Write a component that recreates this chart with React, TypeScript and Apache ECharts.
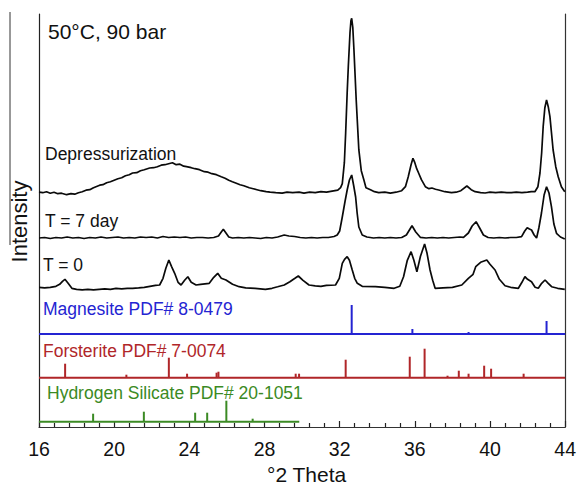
import React, { useEffect, useRef } from "react";
import * as echarts from "echarts";

// ---- axis range ----
const X_MIN = 16;
const X_MAX = 44;
const X_STEP = 4;

// ---- XRD traces: [2θ, relative intensity above own baseline] ----
const depressurization: [number, number][] = [
  [16.0, 0.5], [16.2, 0], [16.4, 1], [16.6, -0.5], [16.8, 0.5], [17.0, -1], [17.2, -0.5], [17.47, -2], [17.7, -1], [17.9, -1.5],
  [18.1, 0], [18.3, 1], [18.5, 2.5], [18.7, 3], [18.9, 5], [19.23, 7.5], [19.4, 8], [19.6, 10], [19.8, 11], [20.0, 12.5],
  [20.2, 14], [20.4, 15], [20.6, 17], [20.8, 18], [20.98, 19.7], [21.2, 20], [21.4, 22], [21.6, 23], [21.89, 24.7], [22.1, 25],
  [22.3, 26], [22.5, 27.5], [22.7, 28], [22.9, 29], [23.1, 30], [23.3, 28], [23.5, 28.5], [23.7, 26.5], [23.85, 26], [24.1, 25],
  [24.3, 24], [24.54, 23], [24.8, 21], [25.0, 20.5], [25.2, 19], [25.44, 18], [25.7, 16], [25.9, 14.5], [26.1, 12.5], [26.29, 11],
  [26.5, 9.5], [26.7, 8], [26.9, 7], [27.19, 5], [27.4, 4], [27.6, 3], [27.8, 2], [28.09, 1], [28.3, 0.5], [28.6, 0],
  [28.94, -0.5], [29.2, 0.5], [29.5, 0], [29.84, 0.5], [30.1, -0.5], [30.4, 0.5], [30.7, 0], [31.0, 1], [31.3, 0.5], [31.6, 1.5],
  [31.9, 2.5], [32.05, 5], [32.14, 9], [32.25, 30], [32.32, 60], [32.4, 100], [32.46, 126], [32.55, 160], [32.6, 172], [32.64, 174.4],
  [32.7, 165], [32.76, 143], [32.82, 118], [32.88, 93], [32.95, 68], [33.02, 43], [33.15, 22], [33.29, 12.7], [33.4, 5], [33.64, 3],
  [33.85, 1], [34.08, 0], [34.4, 0.5], [34.7, -0.5], [35.0, 0.5], [35.3, 2], [35.5, 6], [35.65, 16], [35.8, 28], [35.9, 34.4],
  [36.0, 30], [36.1, 24], [36.2, 19.7], [36.35, 13], [36.56, 6], [36.75, 4], [36.91, 4.7], [37.1, 3.5], [37.27, 2.7], [37.6, 1],
  [37.95, 0], [38.2, 0.5], [38.45, 2], [38.77, 6.7], [39.0, 3], [39.21, 1], [39.5, 0], [39.74, -0.3], [40.0, 0.5], [40.3, 0],
  [40.6, 0.5], [40.9, 0], [41.14, 0], [41.4, 0.5], [41.7, 0], [42.0, 0.5], [42.2, 1], [42.39, 1], [42.55, 6], [42.66, 19.7],
  [42.75, 40], [42.83, 66], [42.92, 85], [43.01, 92.7], [43.1, 86], [43.19, 76], [43.36, 42.7], [43.5, 26], [43.63, 16], [43.8, 6],
  [43.98, 1],
];

const day7: [number, number][] = [
  [16.0, 0], [16.3, 0.5], [16.6, -0.5], [16.9, 0.5], [17.2, 0], [17.5, 1], [17.8, 0], [18.1, 0.5], [18.4, -0.5], [18.7, 0.5],
  [19.0, 0], [19.3, 1], [19.6, 0], [19.9, 0.5], [20.2, 1], [20.5, 0], [20.8, 0.5], [21.1, 0], [21.4, 1], [21.7, 0.5],
  [22.0, 1], [22.3, 0], [22.6, 1.5], [22.9, 0.5], [23.2, 1], [23.5, 0.5], [23.8, 1], [24.1, 0], [24.4, 0.5], [24.7, 0.5],
  [25.0, 0], [25.3, 0.5], [25.55, 2], [25.7, 6], [25.81, 8.7], [25.95, 5], [26.1, 1], [26.3, 0], [26.6, 0.5], [26.9, 0],
  [27.2, 0.5], [27.5, 0], [27.8, -0.5], [28.1, 0.5], [28.4, 0], [28.7, 1], [29.05, 3], [29.3, 2], [29.6, 1.5], [29.9, 0.5],
  [30.2, 0], [30.5, 0.5], [30.8, 0], [31.1, 0.5], [31.4, 0.5], [31.7, 1.5], [31.87, 3], [32.0, 7], [32.14, 21], [32.28, 36],
  [32.4, 48], [32.52, 58], [32.64, 63], [32.75, 52], [32.85, 41], [32.93, 25], [33.02, 11], [33.2, 3], [33.45, 1], [33.8, 0],
  [34.1, 0.5], [34.4, 0], [34.7, 0.5], [35.0, 0], [35.3, 0.5], [35.55, 3], [35.85, 12.3], [36.05, 6], [36.29, 0.7], [36.6, 0],
  [36.9, 0.5], [37.2, 0], [37.5, 0.5], [37.8, 0], [38.1, 0.5], [38.4, 1], [38.59, 0.7], [38.85, 5], [39.05, 12], [39.26, 16.3],
  [39.45, 10], [39.65, 3], [39.9, 0.5], [40.2, 0], [40.5, 0.5], [40.8, 0], [41.1, 0.5], [41.4, 0.5], [41.68, 1.3], [41.85, 7],
  [41.98, 10.3], [42.1, 9], [42.21, 8], [42.35, 3], [42.48, 0], [42.6, 10], [42.74, 25], [42.88, 43], [43.01, 51.3], [43.14, 45],
  [43.27, 31.3], [43.4, 14], [43.54, 4.7], [43.75, 1], [43.98, -1],
];

const day0: [number, number][] = [
  [16.0, 1], [16.3, 0.5], [16.6, 1], [16.9, 2], [17.1, 4], [17.25, 7], [17.38, 9], [17.55, 5], [17.75, 0], [18.0, -1],
  [18.3, -1.5], [18.6, -1], [18.9, -1.5], [19.2, -1], [19.5, -0.5], [19.8, -1], [20.1, 0], [20.4, -0.5], [20.7, 0], [20.98, 0],
  [21.3, 0.5], [21.6, 1], [21.9, 2], [22.2, 3], [22.42, 3.3], [22.6, 10], [22.75, 20], [22.91, 28.3], [23.05, 22], [23.22, 15],
  [23.4, 6], [23.56, 3.3], [23.75, 8], [23.92, 11.6], [24.1, 6], [24.36, 3.3], [24.6, 4], [25.06, 5], [25.3, 11], [25.51, 15],
  [25.7, 10], [25.95, 8.3], [26.3, 4], [26.65, 1.6], [27.0, 0.5], [27.5, 0], [28.05, -1], [28.4, 0], [28.7, 1.5], [29.05, 3.3],
  [29.35, 6.6], [29.62, 10], [29.8, 12.3], [30.05, 8], [30.37, 3.3], [30.7, 2.5], [31.0, 2], [31.3, 3], [31.78, 3.3], [31.98, 10],
  [32.14, 25], [32.26, 29], [32.4, 31.6], [32.52, 28], [32.67, 18.3], [32.8, 10], [32.94, 5], [33.2, 2], [33.9, 1.6], [34.4, 1],
  [34.9, 0], [35.2, 2], [35.4, 11.6], [35.6, 28], [35.8, 36.6], [35.95, 28], [36.11, 16.6], [36.3, 32], [36.52, 44.3], [36.65, 35],
  [36.81, 18.3], [36.95, 8], [37.08, 0], [37.5, 0.5], [38.0, 1], [38.5, 3.3], [38.85, 10], [39.1, 14], [39.24, 21.6], [39.5, 26],
  [39.83, 28.3], [40.0, 24], [40.27, 18.3], [40.5, 9], [40.8, 2.6], [41.1, 1], [41.51, 0], [41.7, 6], [41.86, 11.6], [42.0, 9],
  [42.21, 6.6], [42.4, 1], [42.57, 0], [42.75, 5], [42.93, 8.3], [43.1, 5], [43.28, 1.6], [43.6, 0], [43.98, -1],
];

// ---- reference patterns (stick positions & relative heights) ----
const magnesitePos = [32.64, 35.87, 38.86, 43.01];
const magnesiteInt = [29, 5, 2, 13];
const forsteritePos = [17.39, 20.65, 22.91, 23.88, 25.45, 25.55, 29.66, 29.84, 32.32, 35.73, 36.52, 37.74, 38.34, 38.86, 39.69, 40.06, 41.79];
const forsteriteInt = [14, 3, 20, 4, 5, 6, 4, 4, 18, 21, 29, 2, 7, 4, 12, 9, 4];
const hydroSilPos = [18.88, 21.58, 24.31, 24.95, 25.97, 27.37];
const hydroSilInt = [8, 10, 9, 9, 21, 3];
const hydroSilBaselineEnd = 29.85;

// ---- labels ----
const titleText = "50°C, 90 bar";
const traceLabels = ["Depressurization", "T = 7 day", "T = 0"];
const patternLabels = ["Magnesite PDF# 8-0479", "Forsterite PDF# 7-0074", "Hydrogen Silicate PDF# 20-1051"];
const xAxisTitle = "°2 Theta";
const yAxisTitle = "Intensity";

// ---- layout (vertical offsets in axis units, colours) ----
const Y_MAX = 413;
const OFF_DEPRESS = 234.3;
const OFF_DAY7 = 189;
const OFF_DAY0 = 138.7;
const OFF_MAG = 93;
const OFF_FOR = 49.3;
const OFF_HS = 5.3;
const BLUE = "#2424d2";
const RED = "#b02629";
const GREEN = "#3b8a24";
const FONT = "Liberation Sans, Arial, sans-serif";

function shift(data: [number, number][], off: number) {
  return data.map(([x, y]) => [x, y + off]);
}

function traceSeries(name: string, data: [number, number][], off: number) {
  return {
    type: "line",
    name,
    data: shift(data, off),
    showSymbol: false,
    symbol: "none",
    silent: true,
    lineStyle: { color: "#0a0a0a", width: 1.7 },
    z: 4,
  };
}

function stickSeries(name: string, pos: number[], ints: number[], base: number, color: string) {
  return {
    type: "custom",
    name,
    silent: true,
    z: 3,
    encode: { x: 0, y: 1 },
    data: pos.map((p, i) => [p, base + ints[i]]),
    renderItem: (params: any, api: any) => {
      const x = api.value(0);
      const top = api.value(1);
      const a = api.coord([x, base]);
      const b = api.coord([x, top]);
      return {
        type: "line",
        shape: { x1: a[0], y1: a[1], x2: b[0], y2: b[1] },
        style: { stroke: color, lineWidth: 2 },
      };
    },
  };
}

function baselineSeries(name: string, base: number, end: number, color: string) {
  return {
    type: "line",
    name,
    data: [[X_MIN, base], [end, base]],
    showSymbol: false,
    symbol: "none",
    silent: true,
    lineStyle: { color, width: 2 },
    z: 3,
  };
}

export default function App() {
  const ref = useRef<HTMLDivElement>(null);
  useEffect(() => {
    document.body.style.margin = "0";
    if (!ref.current) return;
    const chart = echarts.init(ref.current, null, { renderer: "svg" });
    const frame = { show: true, lineStyle: { color: "#333", width: 1.2 } };
    chart.setOption({
      animation: false,
      backgroundColor: "#fff",
      grid: { left: 39, right: 12, top: 14, bottom: 59, containLabel: false },
      xAxis: [
        {
          type: "value",
          min: X_MIN,
          max: X_MAX,
          interval: X_STEP,
          position: "bottom",
          axisLine: { show: false },
          axisTick: { show: true, inside: true, length: 6, lineStyle: { color: "#222", width: 1.2 } },
          minorTick: { show: true, splitNumber: 5, length: 4, lineStyle: { color: "#222", width: 1.2 } },
          axisLabel: { fontSize: 19.5, color: "#111", margin: 12, fontFamily: FONT },
          splitLine: { show: false },
          minorSplitLine: { show: false },
        },
        {
          type: "value",
          min: X_MIN,
          max: X_MAX,
          position: "top",
          axisLine: frame,
          axisTick: { show: false },
          axisLabel: { show: false },
          splitLine: { show: false },
        },
      ],
      yAxis: [
        {
          type: "value",
          min: 0,
          max: Y_MAX,
          position: "left",
          axisLine: { show: true, lineStyle: { color: "#222", width: 1.2 } },
          axisTick: { show: false },
          axisLabel: { show: false },
          splitLine: { show: false },
        },
        {
          type: "value",
          min: 0,
          max: Y_MAX,
          position: "right",
          axisLine: frame,
          axisTick: { show: false },
          axisLabel: { show: false },
          splitLine: { show: false },
        },
      ],
      series: [
        traceSeries(traceLabels[0], depressurization, OFF_DEPRESS),
        traceSeries(traceLabels[1], day7, OFF_DAY7),
        traceSeries(traceLabels[2], day0, OFF_DAY0),
        baselineSeries(patternLabels[0] + " base", OFF_MAG, X_MAX, BLUE),
        baselineSeries(patternLabels[1] + " base", OFF_FOR, X_MAX, RED),
        baselineSeries(patternLabels[2] + " base", OFF_HS, hydroSilBaselineEnd, GREEN),
        stickSeries(patternLabels[0], magnesitePos, magnesiteInt, OFF_MAG, BLUE),
        stickSeries(patternLabels[1], forsteritePos, forsteriteInt, OFF_FOR, RED),
        stickSeries(patternLabels[2], hydroSilPos, hydroSilInt, OFF_HS, GREEN),
      ],
      graphic: [
        { type: "line", shape: { x1: 10, y1: 12, x2: 10, y2: 245 }, style: { stroke: "#333", lineWidth: 1 } },
        { type: "text", x: 48, y: 31, style: { text: titleText, fontSize: 21, fontFamily: FONT, fill: "#111", textVerticalAlign: "middle" } },
        { type: "text", x: 45, y: 153.5, style: { text: traceLabels[0], fontSize: 17.5, fontFamily: FONT, fill: "#111", textVerticalAlign: "middle" } },
        { type: "text", x: 45, y: 221, style: { text: traceLabels[1], fontSize: 17.5, fontFamily: FONT, fill: "#111", textVerticalAlign: "middle" } },
        { type: "text", x: 43, y: 265, style: { text: traceLabels[2], fontSize: 17.5, fontFamily: FONT, fill: "#111", textVerticalAlign: "middle" } },
        { type: "text", x: 43, y: 309, style: { text: patternLabels[0], fontSize: 17.5, fontFamily: FONT, fill: BLUE, textVerticalAlign: "middle" } },
        { type: "text", x: 43, y: 351, style: { text: patternLabels[1], fontSize: 17.5, fontFamily: FONT, fill: RED, textVerticalAlign: "middle" } },
        { type: "text", x: 47, y: 392.5, style: { text: patternLabels[2], fontSize: 17.5, fontFamily: FONT, fill: GREEN, textVerticalAlign: "middle" } },
        { type: "text", x: 267, y: 474, style: { text: xAxisTitle, fontSize: 21, fontFamily: FONT, fill: "#111", textVerticalAlign: "middle" } },
        {
          type: "text",
          x: 19,
          y: 221.5,
          rotation: Math.PI / 2,
          style: { text: yAxisTitle, fontSize: 22, fontFamily: FONT, fill: "#111", textAlign: "center", textVerticalAlign: "middle" },
        },
      ],
    });
    return () => chart.dispose();
  }, []);
  return <div ref={ref} style={{ width: 579, height: 486 }} />;
}
